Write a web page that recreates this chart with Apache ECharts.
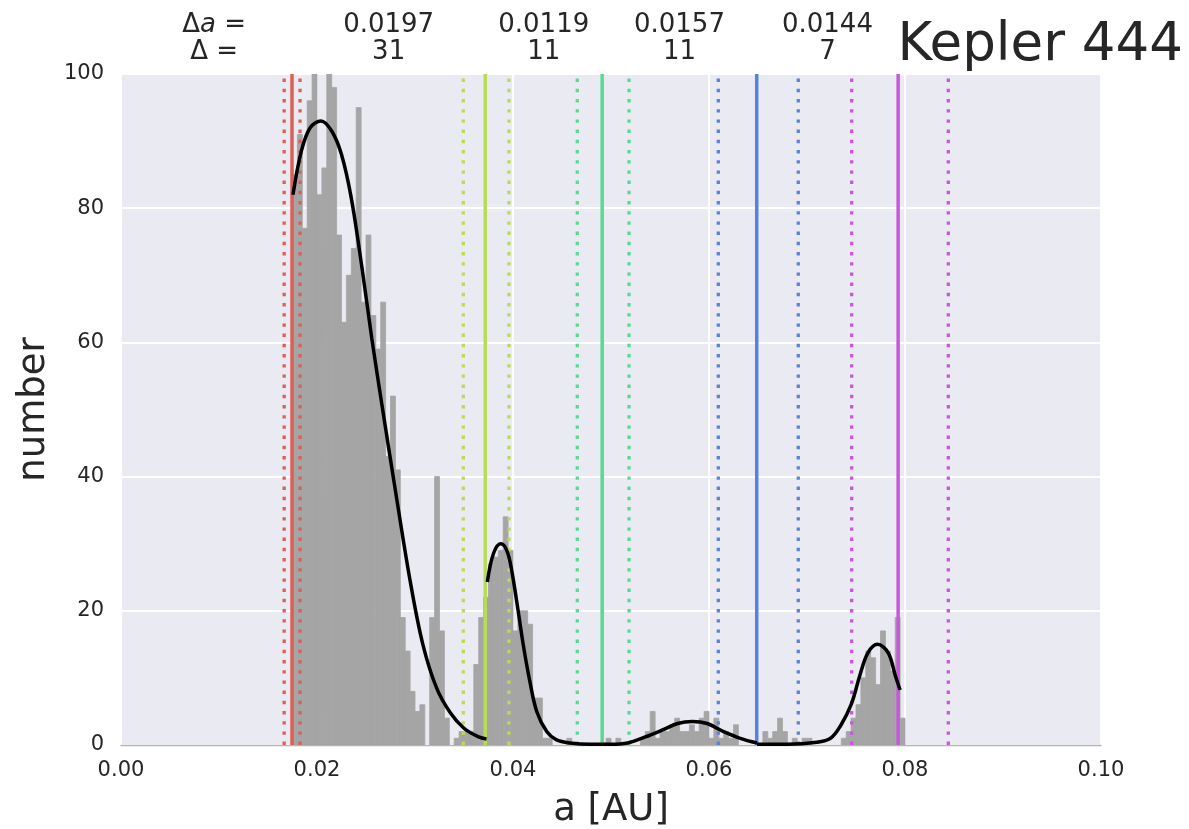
<!DOCTYPE html>
<html>
<head>
<meta charset="utf-8">
<script src="https://cdn.jsdelivr.net/npm/echarts@6/dist/echarts.min.js"></script>
<style>
html,body{margin:0;padding:0;background:#fff;}
#c{width:1189px;height:829px;}
</style>
</head>
<body>
<div id="c"></div>
<script>
// ---------- data ----------
const binStart = 0.0175;
const binWidth = 0.0005;
const counts = [85,91,77,96,100,82,86,100,98,76,63,70,74,95,66,76,64,59,66,43,
  52,41,19,14,8,5,6,0,19,40,17,4,0,1,2,2,2,12,19,22,
  27,28,29,34,29,17,20,20,18,7,7,1,1,0,0,0,1,0,0,0,
  0,0,0,0,1,0,1,0,0,0,0,1,2,5,1,2,2,3,4,2,
  2,3,2,4,5,1,4,1,2,1,3,0,0,0,0,0,2,1,2,4,
  2,0,1,0,1,1,0,0,0,0,0,0,1,2,4,6,10,14,13,9,
  17,14,11,19,4];

const curve1X = [0.01755,0.0184,0.0193,0.0204,0.0215,0.0225,0.0235,0.0246,0.0256,0.0267,0.0281,0.0295,0.0308,0.0322,0.0336,0.0350,0.0365,0.0373];
const curve1Y = [82,88.5,92,93,91.5,88,81.5,71,60.5,50,37,24.5,15,8.5,4.8,2.5,1.2,0.9];
const curve2X = [0.03738,0.0380,0.03874,0.0392,0.0397,0.04038,0.04105,0.04173,0.04242,0.04344,0.0444,0.0458,0.0479,0.0499,0.0517,0.0535,0.0552,0.0568,0.0583,0.0598,0.0615,0.0632,0.0649];
const curve2Y = [24.3,28.5,30,29.5,27.3,21.4,14.9,9.4,5,2,0.8,0.3,0.1,0.1,0.3,1.2,2.2,3.2,3.5,3.2,2,1,0.3];
const curve3X = [0.0649,0.0680,0.0710,0.0724,0.0734,0.0745,0.0754,0.0762,0.0772,0.0783,0.0790,0.0795];
const curve3Y = [0.1,0.1,0.4,1,2.8,6,10.4,13.7,15,13.7,10.4,8.2];

const solidLines = [0.01745,0.03717,0.04910,0.06487,0.07930];
const lowerDotted = [0.01665,0.03493,0.04656,0.06095,0.07456];
const upperDotted = [0.01827,0.03959,0.05184,0.06911,0.08442];
const lineColors = ['#db5f57','#b9db57','#57db94','#5784db','#c957db'];

const deltaA = ['0.0197','0.0119','0.0157','0.0144'];
const deltaN = ['31','11','11','7'];

const xTicks = [0,0.02,0.04,0.06,0.08,0.10];
const yTicks = [0,20,40,60,80,100];
const title = 'Kepler 444';

// ---------- chart ----------
const FONT = '"DejaVu Sans", sans-serif';
const TXT = '#262626';
const BAR = '#a5a5a5';
const chart = echarts.init(document.getElementById('c'), null, {renderer:'canvas'});

const histData = counts.map((c,i)=>[binStart+i*binWidth, binStart+(i+1)*binWidth, c]);

function vline(x, color, dotted){
  return {
    type:'line', data:[[x,yTicks[0]],[x,yTicks[yTicks.length-1]]],
    symbol:'none', silent:true, z:3,
    lineStyle:{color:color, width: dotted?3.3:3.5, type: dotted?[3.4,6.8]:'solid', cap:'butt'},
    animation:false
  };
}
function curve(xs, ys){
  return {
    type:'line', data: xs.map((x,i)=>[x,ys[i]]), symbol:'none', smooth:0.35, z:4,
    lineStyle:{color:'#000', width:3.5}, animation:false
  };
}

const series = [{
  type:'custom',
  data: histData,
  encode:{x:[0,1], y:2},
  clip:true,
  z:2,
  renderItem:function(params, api){
    const p0 = api.coord([api.value(0), api.value(2)]);
    const p1 = api.coord([api.value(1), 0]);
    return {type:'rect', shape:{x:p0[0], y:p0[1], width:p1[0]-p0[0], height:p1[1]-p0[1]},
      style:{fill:BAR, stroke: api.value(2) > 0 ? BAR : null, lineWidth:0.8}};
  },
  animation:false
}];
solidLines.forEach((x,i)=>{
  series.push(vline(lowerDotted[i], lineColors[i], true));
  series.push(vline(upperDotted[i], lineColors[i], true));
  series.push(vline(x, lineColors[i], false));
});
series.push(curve(curve1X, curve1Y));
series.push(curve(curve2X, curve2Y));
series.push(curve(curve3X, curve3Y));

chart.setOption({
  animation:false,
  grid:{left:121, top:74, width:980, height:671, show:true, backgroundColor:'#EAEAF2', borderWidth:0,
        containLabel:false, outerBoundsMode:'none'},
  xAxis:{
    type:'value', min:xTicks[0], max:xTicks[xTicks.length-1], interval:0.02,
    name:'a [AU]', nameLocation:'middle', nameGap:47,
    nameTextStyle:{fontFamily:FONT, fontSize:37, color:TXT},
    axisLine:{show:true, onZero:false, lineStyle:{color:'#b4b4bc', width:1.4}},
    axisTick:{show:false},
    axisLabel:{fontFamily:FONT, fontSize:21, color:TXT, margin:15, formatter:v=>v.toFixed(2)},
    splitLine:{show:true, lineStyle:{color:'#ffffff', width:1.8}}
  },
  yAxis:{
    type:'value', min:yTicks[0], max:yTicks[yTicks.length-1], interval:20,
    name:'number', nameLocation:'middle', nameGap:67, nameRotate:90,
    nameTextStyle:{fontFamily:FONT, fontSize:37, color:TXT},
    axisLine:{show:false}, axisTick:{show:false},
    axisLabel:{fontFamily:FONT, fontSize:21, color:TXT, margin:17, padding:[7,0,0,0]},
    splitLine:{show:true, lineStyle:{color:'#ffffff', width:1.8}}
  },
  series:series
});

// header annotations placed through the x scale
const graphics = [];
const labelX = chart.convertToPixel({xAxisIndex:0}, 0.0095);
graphics.push({type:'text', x:labelX, y:25, style:{
  text:'{n|Δ}{i|a}{n| =}', align:'center', verticalAlign:'middle',
  rich:{n:{fontFamily:FONT, fontSize:26, fill:TXT}, i:{fontFamily:FONT, fontSize:26, fontStyle:'italic', fill:TXT}}
}});
graphics.push({type:'text', x:labelX, y:52, style:{text:'Δ =', font:'26px '+FONT, fill:TXT, align:'center', verticalAlign:'middle'}});
for(let i=0;i<deltaA.length;i++){
  const mid = (solidLines[i]+solidLines[i+1])/2;
  const px = chart.convertToPixel({xAxisIndex:0}, mid);
  graphics.push({type:'text', x:px, y:25, style:{text:deltaA[i], font:'26px '+FONT, fill:TXT, align:'center', verticalAlign:'middle'}});
  graphics.push({type:'text', x:px, y:52, style:{text:deltaN[i], font:'26px '+FONT, fill:TXT, align:'center', verticalAlign:'middle'}});
}
graphics.push({type:'text', x:1183, y:46, style:{text:title, font:'53px '+FONT, fill:TXT, align:'right', verticalAlign:'middle'}});
chart.setOption({graphic:graphics});
</script>
</body>
</html>
